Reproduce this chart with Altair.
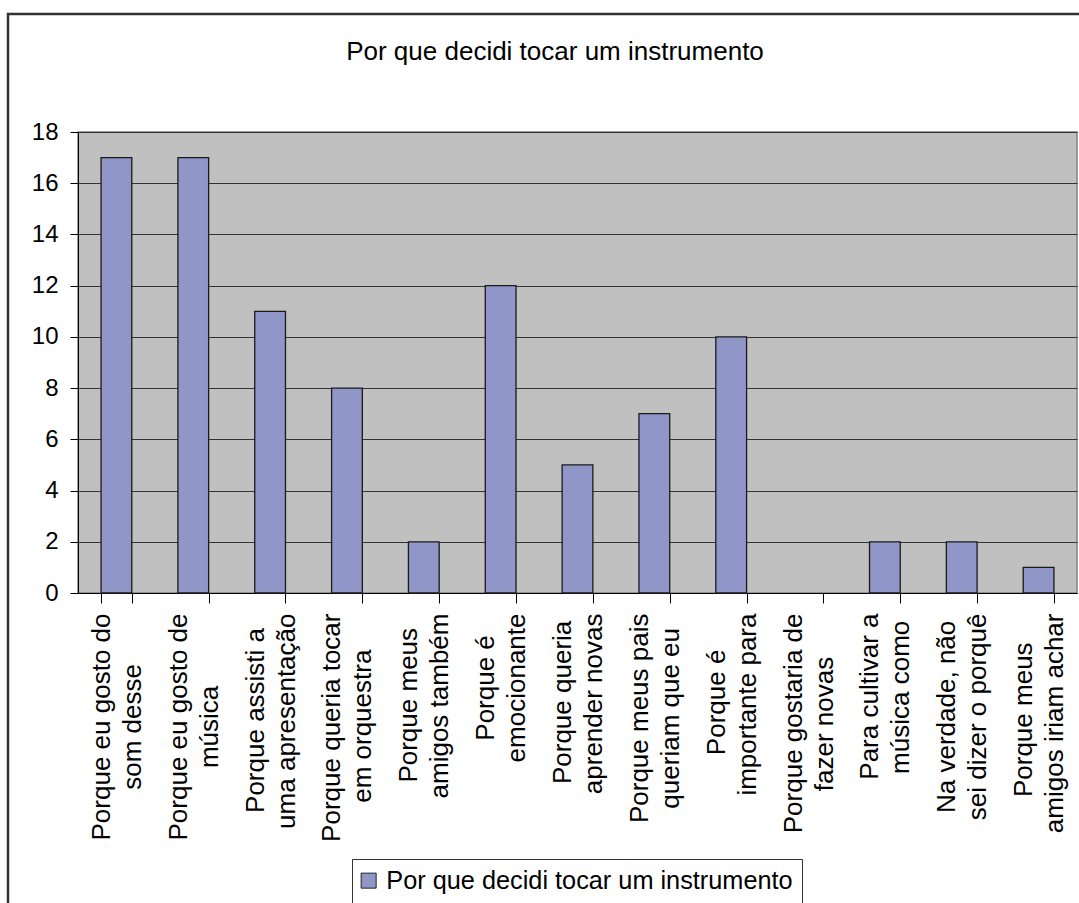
import altair as alt
import pandas as pd

# ---- data ----
line1 = [
    "Porque eu gosto do", "Porque eu gosto de", "Porque assisti a", "Porque queria tocar",
    "Porque meus", "Porque é", "Porque queria", "Porque meus pais", "Porque é",
    "Porque gostaria de", "Para cultivar a", "Na verdade, não", "Porque meus",
]
line2 = [
    "som desse", "música", "uma apresentação", "em orquestra",
    "amigos também", "emocionante", "aprender novas", "queriam que eu", "importante para",
    "fazer novas", "música como", "sei dizer o porquê", "amigos iriam achar",
]
values = [17, 17, 11, 8, 2, 12, 5, 7, 10, 0, 2, 2, 1]
series_name = "Por que decidi tocar um instrumento"
title_text = "Por que decidi tocar um instrumento"
y_ticks = [0, 2, 4, 6, 8, 10, 12, 14, 16, 18]

# Arial / Liberation Sans advance widths (per 1000 em) used to centre the
# shorter line of each two-line label under the longer one.
W = {' ': 278, '\u00a0': 278, ',': 278, 'P': 667, 'N': 667, 'a': 556, 'b': 556,
     'c': 500, 'd': 556, 'e': 556, 'f': 278, 'g': 556, 'h': 556, 'i': 222,
     'j': 222, 'k': 500, 'l': 222, 'm': 833, 'n': 556, 'o': 556, 'p': 556,
     'q': 556, 'r': 333, 's': 500, 't': 278, 'u': 556, 'v': 500, 'w': 722,
     'x': 500, 'y': 500, 'z': 500, 'é': 556, 'ê': 556, 'ã': 556, 'ç': 500,
     'ú': 556}


def tw(s):
    return sum(W.get(c, 556) for c in s)


def centre(a, b):
    # trailing no-break spaces (kept by a zero-width end mark) centre the
    # shorter line when the labels are right-aligned and rotated
    wa, wb = tw(a), tw(b)
    n = round(abs(wa - wb) / 2 / 278)
    pad = '\u00a0' * n + '\u200b' if n else ''
    if wa > wb:
        b = b + pad
    else:
        a = a + pad
    return a + "\n" + b


categories = [centre(a, b) for a, b in zip(line1, line2)]

df = pd.DataFrame({"cat": categories, "val": values, "serie": series_name})

FONT = "Liberation Sans"

bars = alt.Chart(df).mark_bar(stroke="#1a1a1a", strokeWidth=1.3).encode(
    x=alt.X(
        "cat:N",
        sort=None,
        title=None,
        scale=alt.Scale(paddingInner=0.6, paddingOuter=0.3),
        axis=alt.Axis(
            labelAngle=-90,
            labelExpr="split(datum.label, '\\n')",
            labelLineHeight=31,
            labelFontSize=26,
            labelFont=FONT,
            labelColor="#000000",
            labelPadding=10,
            labelOffset=-15,
            labelLimit=400,
            tickBand="extent",
            tickSize=10,
            tickColor="#000000",
            domainColor="#000000",
            grid=False,
        ),
    ),
    y=alt.Y(
        "val:Q",
        title=None,
        scale=alt.Scale(domain=[0, 18], nice=False, zero=True),
        axis=alt.Axis(
            values=y_ticks,
            labelFontSize=24,
            labelFont=FONT,
            labelColor="#000000",
            labelPadding=12,
            tickSize=8,
            tickColor="#000000",
            domainColor="#000000",
            gridColor="#333333",
            gridWidth=1,
        ),
    ),
    strokeOpacity=alt.condition("datum.val == 0", alt.value(0), alt.value(1)),
    color=alt.Color(
        "serie:N",
        scale=alt.Scale(range=["#9096C8"]),
        legend=alt.Legend(
            title=None,
            orient="none",
            legendX=274,
            legendY=727,
            strokeColor="#333333",
            fillColor="#ffffff",
            padding=9,
            labelFontSize=25.3,
            labelFont=FONT,
            labelColor="#000000",
            labelLimit=600,
            labelOffset=5,
            symbolType="square",
            symbolSize=225,
            symbolOffset=-5,
            symbolStrokeColor="#222222",
            symbolStrokeWidth=1,
        ),
    ),
)

deco = alt.Data(values=[{"k": 0}])

border = alt.Chart(deco).mark_rect(
    fillOpacity=0, stroke="#333333", strokeWidth=2.5
).encode(
    x=alt.value(-70), x2=alt.value(1025), y=alt.value(-118), y2=alt.value(800)
)

title = alt.Chart(deco).mark_text(
    text=title_text, font=FONT, fontSize=26, color="#000000",
    align="center", baseline="middle"
).encode(x=alt.value(477), y=alt.value(-80))

chart = alt.layer(border, bars, title).properties(
    width=999,
    height=461,
    autosize=alt.AutoSizeParams(type="none"),
    padding={"left": 78, "top": 132, "right": 2, "bottom": 310},
    background="#ffffff",
).configure_view(
    fill="#C0C0C0", stroke="#808080", strokeWidth=1.5
)

chart.save("out.html", embed_options={"renderer": "svg", "actions": False})
